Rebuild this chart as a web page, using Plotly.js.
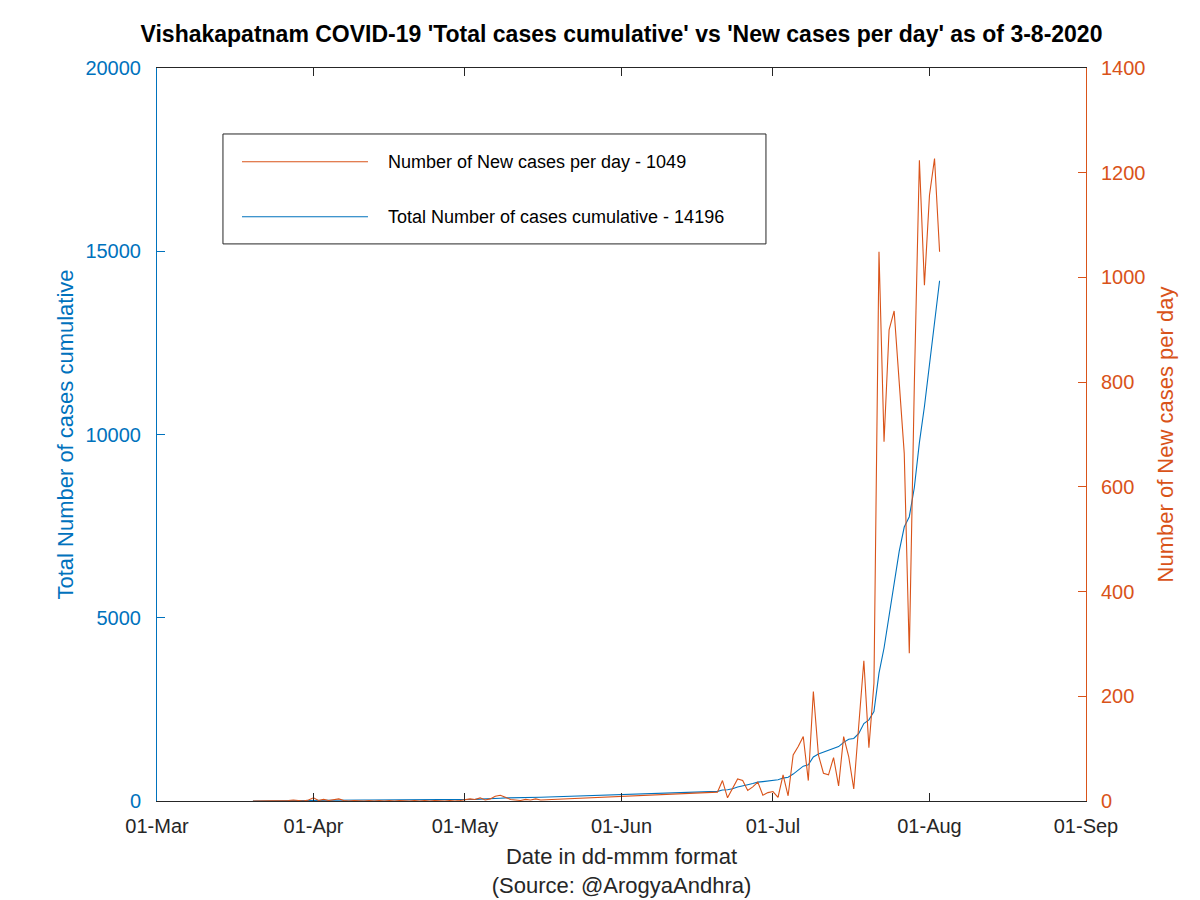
<!DOCTYPE html>
<html>
<head>
<meta charset="utf-8">
<script src="https://cdn.plot.ly/plotly-3.0.1.min.js"></script>
<style>html,body{margin:0;padding:0;background:#fff;}#chart{width:1200px;height:900px;}</style>
</head>
<body>
<div id="chart"></div>
<script>
const dates = [
'2020-03-20','2020-03-21','2020-03-22','2020-03-23','2020-03-24','2020-03-25','2020-03-26','2020-03-27','2020-03-28','2020-03-29','2020-03-30','2020-03-31',
'2020-04-01','2020-04-02','2020-04-03','2020-04-04','2020-04-05','2020-04-06','2020-04-07','2020-04-08','2020-04-09','2020-04-10',
'2020-04-11','2020-04-12','2020-04-13','2020-04-14','2020-04-15','2020-04-16','2020-04-17','2020-04-18','2020-04-19','2020-04-20',
'2020-04-21','2020-04-22','2020-04-23','2020-04-24','2020-04-25','2020-04-26','2020-04-27','2020-04-28','2020-04-29','2020-04-30',
'2020-05-01','2020-05-02','2020-05-03','2020-05-04','2020-05-05','2020-05-06','2020-05-07','2020-05-08','2020-05-09','2020-05-10',
'2020-05-11','2020-05-12','2020-05-13','2020-05-14','2020-05-15','2020-05-16',
'2020-06-20','2020-06-21','2020-06-22','2020-06-23','2020-06-24','2020-06-25','2020-06-26','2020-06-27','2020-06-28','2020-06-29','2020-06-30',
'2020-07-01','2020-07-02','2020-07-03','2020-07-04','2020-07-05','2020-07-06','2020-07-07','2020-07-08','2020-07-09','2020-07-10',
'2020-07-11','2020-07-12','2020-07-13','2020-07-14','2020-07-15','2020-07-16','2020-07-17','2020-07-18','2020-07-19','2020-07-20',
'2020-07-21','2020-07-22','2020-07-23','2020-07-24','2020-07-25','2020-07-26','2020-07-27','2020-07-28','2020-07-29','2020-07-30','2020-07-31',
'2020-08-01','2020-08-02','2020-08-03'
];

const newCases = [
0,0,0,0,1,0,1,1,2,1,0,2,
6,1,3,1,2,4,1,0,1,0,
0,1,0,1,0,1,0,1,0,0,
1,0,1,0,1,0,0,1,0,1,
2,4,3,6,2,4,9,11,7,3,
2,1,3,2,4,2,
17,39,6,25,42,39,20,27,36,11,16,
18,7,50,10,88,104,123,39,209,88,
53,50,83,29,123,85,23,139,268,102,
225,1049,686,900,936,800,664,282,797,1224,985,
1157,1227,1049
];

const totalCases = [
0,0,0,0,1,1,2,3,5,6,6,8,
14,15,18,19,21,25,26,26,27,27,
27,28,28,29,29,30,30,31,31,31,
32,32,33,33,34,34,34,35,35,36,
38,42,45,51,53,57,66,77,84,87,
89,90,93,95,99,101,
263,302,308,333,380,420,445,475,515,530,548,
566,580,625,650,735,840,950,990,1200,1280,
1330,1380,1450,1485,1600,1683,1706,1845,2113,2215,
2440,3489,4175,5075,6011,6811,7475,7757,8554,9778,10763,
11920,13147,14196
];

const xRange = ['2020-03-01','2020-09-01'];
const leftRange = [0, 20000];
const rightRange = [0, 1400];

const BLUE = '#0072BD';
const ORANGE = '#D95319';
const DARK = '#262626';
const FONT = 'Liberation Sans, Arial, Helvetica, sans-serif';

const newLabel = 'Number of New cases per day - ' + newCases[newCases.length - 1];
const totalLabel = 'Total Number of cases cumulative - ' + totalCases[totalCases.length - 1];

const traces = [
  {x: dates, y: totalCases, type: 'scatter', mode: 'lines', name: totalLabel,
   line: {color: BLUE, width: 1.1}, yaxis: 'y', showlegend: false},
  {x: dates, y: newCases, type: 'scatter', mode: 'lines', name: newLabel,
   line: {color: ORANGE, width: 1.1}, yaxis: 'y2', showlegend: false}
];

// legend box geometry (paper coordinates)
const lgX0 = 0.071, lgX1 = 0.6555, lgY0 = 0.760, lgY1 = 0.910;
const rowA = 0.872, rowB = 0.797;
const sampleX0 = 0.0915, sampleX1 = 0.2271, textX = 0.2466;

const layout = {
  width: 1200, height: 900,
  margin: {l: 157, r: 114, t: 68, b: 99},
  paper_bgcolor: '#ffffff', plot_bgcolor: '#ffffff',
  font: {family: FONT, color: DARK},
  showlegend: false,
  title: {
    text: "<b>Vishakapatnam COVID-19 'Total cases cumulative' vs 'New cases per day' as of 3-8-2020</b>",
    font: {family: FONT, size: 23, color: '#000000'},
    xref: 'paper', x: 0.5, xanchor: 'center',
    yref: 'container', y: 1 - 34/900, yanchor: 'middle'
  },
  xaxis: {
    type: 'date', range: xRange, tick0: '2020-03-01', dtick: 'M1', tickformat: '%d-%b',
    ticks: 'inside', ticklen: 8, tickwidth: 1, tickcolor: DARK,
    showline: true, linecolor: DARK, linewidth: 1, mirror: 'ticks',
    showgrid: false, zeroline: false,
    tickfont: {family: FONT, size: 20, color: DARK},
    ticklabelstandoff: 7,
    title: {text: 'Date in dd-mmm format<br>(Source: @ArogyaAndhra)', font: {family: FONT, size: 22, color: DARK}, standoff: 12}
  },
  yaxis: {
    range: leftRange, dtick: 5000, tick0: 0, tickformat: 'd',
    ticks: 'inside', ticklen: 8, tickwidth: 1, tickcolor: BLUE,
    showline: true, linecolor: BLUE, linewidth: 1,
    showgrid: false, zeroline: false,
    tickfont: {family: FONT, size: 20, color: BLUE},
    ticklabelstandoff: 11,
    title: {text: 'Total Number of cases cumulative', font: {family: FONT, size: 22, color: BLUE}, standoff: 5}
  },
  yaxis2: {
    overlaying: 'y', side: 'right',
    range: rightRange, dtick: 200, tick0: 0, tickformat: 'd',
    ticks: 'inside', ticklen: 8, tickwidth: 1, tickcolor: ORANGE,
    showline: true, linecolor: ORANGE, linewidth: 1,
    showgrid: false, zeroline: false,
    tickfont: {family: FONT, size: 20, color: ORANGE},
    ticklabelstandoff: 10,
    title: {text: 'Number of New cases per day', font: {family: FONT, size: 22, color: ORANGE}, standoff: 13}
  },
  shapes: [
    {type: 'rect', xref: 'paper', yref: 'paper', x0: lgX0, x1: lgX1, y0: lgY0, y1: lgY1,
     line: {color: DARK, width: 1}, fillcolor: '#ffffff', layer: 'above'},
    {type: 'line', xref: 'paper', yref: 'paper', x0: sampleX0, x1: sampleX1, y0: rowA, y1: rowA,
     line: {color: ORANGE, width: 1.1}, layer: 'above'},
    {type: 'line', xref: 'paper', yref: 'paper', x0: sampleX0, x1: sampleX1, y0: rowB, y1: rowB,
     line: {color: BLUE, width: 1.1}, layer: 'above'}
  ],
  annotations: [
    {xref: 'paper', yref: 'paper', x: textX, y: rowA, xanchor: 'left', yanchor: 'middle',
     text: newLabel, showarrow: false, font: {family: FONT, size: 18, color: '#000000'}},
    {xref: 'paper', yref: 'paper', x: textX, y: rowB, xanchor: 'left', yanchor: 'middle',
     text: totalLabel, showarrow: false, font: {family: FONT, size: 18, color: '#000000'}}
  ]
};

Plotly.newPlot('chart', traces, layout, {displayModeBar: false, staticPlot: true});
</script>
</body>
</html>
